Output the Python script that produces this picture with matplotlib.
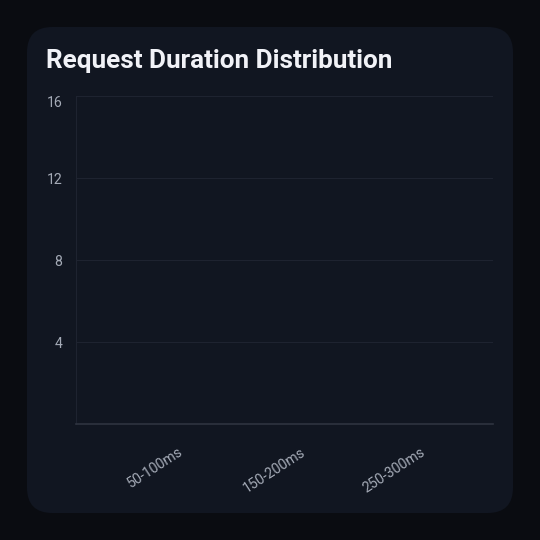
import matplotlib
matplotlib.use("Agg")
import matplotlib.pyplot as plt
import matplotlib.transforms as mtransforms
from matplotlib.patches import FancyBboxPatch

# duration buckets (no bars visible in the reference -> zero counts)
buckets = ["0-50ms", "50-100ms", "100-150ms", "150-200ms", "200-250ms", "250-300ms", "300-350ms"]
counts = [0, 0, 0, 0, 0, 0, 0]
y_ticks = [4, 8, 12, 16]

plt.rcParams["font.family"] = ["Roboto", "DejaVu Sans"]

fig = plt.figure(figsize=(5.4, 5.4), dpi=100)
fig.patch.set_facecolor("#0a0c11")

W = 540.0
card = FancyBboxPatch((27 / W, 27 / W), 486 / W, 486 / W,
                      boxstyle="round,pad=0,rounding_size=0.047",
                      transform=fig.transFigure, facecolor="#111621",
                      edgecolor="none", zorder=-10)
fig.patches.append(card)

fig.text(46 / W, 1 - 61 / W, "Request Duration Distribution", color="#f1f2f7",
         fontsize=18.8, fontweight="bold", va="center", ha="left")

ax = fig.add_axes([76 / W, 1 - 424 / W, (493 - 76) / W, (424 - 96) / W])
ax.set_facecolor("none")

x = list(range(len(buckets)))
ax.bar(x, counts, width=0.8, color="#5b8def")

ax.set_xlim(-0.5, len(buckets) - 0.5)
ax.set_ylim(0, 16)
ax.set_yticks(y_ticks)
ax.set_yticklabels([str(v) for v in y_ticks])
ax.set_xticks(x[1::2])
ax.set_xticklabels(buckets[1::2], rotation=33, ha="center")

ax.grid(axis="y", color="#1e2330", linewidth=0.8)
ax.set_axisbelow(True)
for s in ["top", "right"]:
    ax.spines[s].set_visible(False)
ax.spines["left"].set_color("#1e2330")
ax.spines["bottom"].set_color("#2e3340")
ax.spines["bottom"].set_linewidth(1.2)

ax.tick_params(axis="both", length=0, colors="#a4aab6", labelsize=10.2)
ax.tick_params(axis="y", pad=10)
ax.tick_params(axis="x", pad=15)
ax.get_yticklabels()[-1].set_verticalalignment("top")

shift = mtransforms.ScaledTranslation(-10 / 100, 0, fig.dpi_scale_trans)
for lab in ax.get_xticklabels():
    lab.set_transform(lab.get_transform() + shift)

fig.savefig("out.png", dpi=100, facecolor=fig.get_facecolor())
